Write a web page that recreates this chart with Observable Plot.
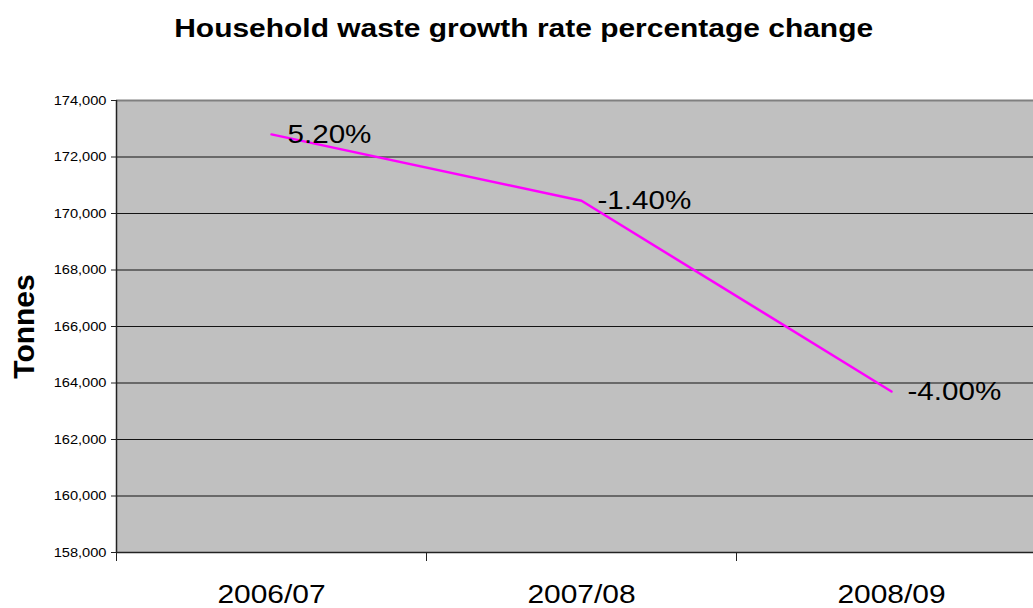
<!DOCTYPE html>
<html>
<head>
<meta charset="utf-8">
<script src="https://cdn.jsdelivr.net/npm/d3@7"></script>
<script src="https://cdn.jsdelivr.net/npm/@observablehq/plot@0.6"></script>
<style>
  html, body { margin: 0; padding: 0; background: #fff; overflow: hidden; }
  #chart { position: relative; width: 1033px; height: 608px; overflow: hidden;
           font-family: "Liberation Sans", Arial, sans-serif; }
  #title { position: absolute; left: 0; top: 16px; width: 1047px; text-align: center;
           font-size: 25.6px; font-weight: bold; line-height: 1; color: #000; }
  #title span { display: inline-block; transform: scaleX(1.17); transform-origin: 50% 50%; }
  #chart svg { position: absolute; left: 0; top: 0; max-width: none; }
</style>
</head>
<body>
<div id="chart">
  <div id="title"><span>Household waste growth rate percentage change</span></div>
</div>
<script>
// Financial years and household waste collected (tonnes)
const years = ["2006/07", "2007/08", "2008/09"];
const tonnes = [172800, 170450, 163700];
// Year-on-year growth rate, percent
const growth = [5.2, -1.4, -4.0];
// Value axis ticks
const yTicks = [158000, 160000, 162000, 164000, 166000, 168000, 170000, 172000, 174000];

const rows = years.map((year, i) => ({
  i, year, tonnes: tonnes[i], label: growth[i].toFixed(2) + "%"
}));
// Category boundaries (tick marks sit between the categories)
const bounds = d3.range(-0.5, years.length, 1);

const plot = Plot.plot({
  width: 1046,
  height: 608,
  marginLeft: 116,
  marginRight: 0,
  marginTop: 100,
  marginBottom: 56,
  style: {
    fontFamily: "Liberation Sans, Arial, sans-serif",
    background: "transparent",
    color: "#000",
    overflow: "visible",
    maxWidth: "none"
  },
  x: { type: "linear", domain: [-0.5, years.length - 0.5] },
  y: { domain: [yTicks[0], yTicks[yTicks.length - 1]] },
  marks: [
    Plot.frame({ fill: "#c0c0c0", stroke: null }),
    Plot.ruleY(yTicks.slice(1, -1), { stroke: "#000", strokeWidth: 1, strokeOpacity: 0.9 }),
    Plot.ruleY([yTicks[yTicks.length - 1]], { stroke: "#808080", strokeWidth: 2 }),
    Plot.ruleX([years.length - 0.5], { stroke: "#808080", strokeWidth: 2 }),
    Plot.ruleY([yTicks[0]], { stroke: "#222", strokeWidth: 1.5 }),
    Plot.ruleX([-0.5], { stroke: "#222", strokeWidth: 1.5 }),
    Plot.axisY(yTicks, {
      label: null, tickFormat: d3.format(","), tickSize: 5, tickPadding: 5,
      fontSize: 12.5, stroke: "#222", fill: "#000"
    }),
    Plot.axisX(bounds, { label: null, tickSize: 9, tickFormat: () => "", stroke: "#222" }),
    Plot.axisX(d3.range(years.length), {
      label: null, tickSize: 0, tickPadding: 32, tickFormat: (i) => years[i],
      fontSize: 25.6, fill: "#000"
    }),
    Plot.line(rows, { x: "i", y: "tonnes", stroke: "#ff00ff", strokeWidth: 2.5 }),
    Plot.text(rows, {
      x: "i", y: "tonnes", text: "label", textAnchor: "start", lineAnchor: "middle",
      dx: 16, fontSize: 25.3, fill: "#000"
    }),
    Plot.text(["Tonnes"], {
      text: (d) => d, frameAnchor: "left", rotate: -90, textAnchor: "middle",
      lineAnchor: "bottom", dx: -83, fontSize: 30, fontWeight: "bold", fill: "#000"
    })
  ]
});

document.getElementById("chart").appendChild(plot);

// Horizontal labels use a slightly wide face: widen their glyphs
plot.querySelectorAll("text").forEach((t) => {
  const s = t.textContent;
  if (!s || s === "Tonnes") return;
  const w = t.getComputedTextLength();
  t.setAttribute("textLength", (w * 1.17).toFixed(2));
  t.setAttribute("lengthAdjust", "spacingAndGlyphs");
});
</script>
</body>
</html>
